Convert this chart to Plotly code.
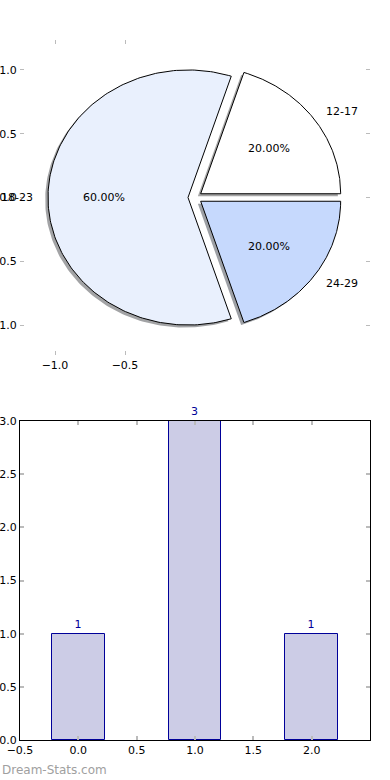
import numpy as np
import plotly.graph_objects as go
from plotly.subplots import make_subplots

# ---- data ----
age_groups = ["12-17", "18-23", "24-29"]
counts = [1, 3, 1]
bar_positions = [0, 1, 2]
pie_colors = ["#ffffff", "#e9f0fd", "#c6d9fd"]
pie_explode = [0.05, 0.05, 0.05]
x_ticks_top = [-1.0, -0.5]
y_ticks_top = [-1.0, -0.5, 0.0, 0.5, 1.0]
x_ticks_bottom = [-0.5, 0.0, 0.5, 1.0, 1.5, 2.0]
y_ticks_bottom = [0.0, 0.5, 1.0, 1.5, 2.0, 2.5, 3.0]

FONT = "DejaVu Sans"
TICK_GRAY = "#bbbbbb"

fig = make_subplots(rows=2, cols=1)

def hex_rgb(h):
    h = h.lstrip("#")
    return tuple(int(h[i:i + 2], 16) for i in (0, 2, 4))

total = float(sum(counts))
angles = np.cumsum([0] + [c / total * 360.0 for c in counts])

slices = []
for i, lab in enumerate(age_groups):
    t1, t2 = angles[i], angles[i + 1]
    mid = np.deg2rad((t1 + t2) / 2)
    cx, cy = pie_explode[i] * np.cos(mid), pie_explode[i] * np.sin(mid)
    th = np.deg2rad(np.linspace(t1, t2, 200))
    xs = np.concatenate([[cx], cx + np.cos(th), [cx]])
    ys = np.concatenate([[cy], cy + np.sin(th), [cy]])
    slices.append((xs, ys, cx, cy, mid))

# shadows
for i, (xs, ys, cx, cy, mid) in enumerate(slices):
    r, g, b = hex_rgb(pie_colors[i])
    fig.add_trace(go.Scatter(
        x=xs - 0.02, y=ys - 0.02, mode="lines", fill="toself",
        fillcolor=f"rgba({int(0.3*r)},{int(0.3*g)},{int(0.3*b)},0.5)",
        line=dict(width=0), hoverinfo="skip", showlegend=False), row=1, col=1)

# wedges
for i, (xs, ys, cx, cy, mid) in enumerate(slices):
    fig.add_trace(go.Scatter(
        x=xs, y=ys, mode="lines", fill="toself", fillcolor=pie_colors[i],
        line=dict(color="black", width=1), hoverinfo="skip",
        showlegend=False), row=1, col=1)

# pie labels
for i, (xs, ys, cx, cy, mid) in enumerate(slices):
    lx, ly = cx + 1.1 * np.cos(mid), cy + 1.1 * np.sin(mid)
    fig.add_annotation(x=lx, y=ly, xref="x", yref="y", text=age_groups[i],
                       showarrow=False, xanchor="left" if lx > 0 else "right",
                       yanchor="middle", borderpad=0,
                       font=dict(family=FONT, size=11, color="black"))
    px, py = cx + 0.6 * np.cos(mid), cy + 0.6 * np.sin(mid)
    fig.add_annotation(x=px, y=py, xref="x", yref="y",
                       text=f"{counts[i] / total * 100:.2f}%",
                       showarrow=False, xanchor="center", yanchor="middle",
                       font=dict(family=FONT, size=11, color="black"))

# bars
fig.add_trace(go.Bar(
    x=bar_positions, y=counts, width=0.45,
    marker=dict(color="#ccccE6", line=dict(color="#000099", width=1)),
    text=[str(c) for c in counts], textposition="outside",
    textfont=dict(family=FONT, size=11, color="#000099"),
    cliponaxis=False, hoverinfo="skip", showlegend=False), row=2, col=1)

tickfont = dict(family=FONT, size=11, color="black")

common = dict(ticks="inside", ticklen=4, tickcolor=TICK_GRAY, showgrid=False,
              zeroline=False, tickfont=tickfont, tickformat=".1f",
              automargin=False, mirror="ticks", showline=True)

fig.update_xaxes(range=[-1.25, 1.25], tickvals=x_ticks_top, tickwidth=1,
                 linecolor="rgba(0,0,0,0)", domain=[0, 1], **common, row=1, col=1)
fig.update_yaxes(range=[-1.235, 1.235], tickvals=y_ticks_top, tickwidth=1,
                 linecolor="rgba(0,0,0,0)", domain=[0.55, 1.0], **common, row=1, col=1)

fig.update_xaxes(range=[-0.5, 2.5], tickvals=x_ticks_bottom, tickwidth=2,
                 linecolor="black", linewidth=1, domain=[0, 1], **common, row=2, col=1)
fig.update_yaxes(range=[0, 3.0], tickvals=y_ticks_bottom, tickwidth=2,
                 linecolor="black", linewidth=1, domain=[0.0, 0.4557], **common, row=2, col=1)

fig.update_layout(
    width=390, height=780,
    margin=dict(l=20, r=20, t=40, b=40, autoexpand=False),
    paper_bgcolor="white", plot_bgcolor="white",
    font=dict(family=FONT, size=11, color="black"),
    showlegend=False, bargap=0,
)

fig.add_annotation(x=-20 / 350, y=-30 / 700, xref="paper", yref="paper",
                   text="Dream-Stats.com", showarrow=False,
                   xanchor="left", yanchor="middle",
                   font=dict(family=FONT, size=12, color="#a0a0a0"))

fig.write_html("out.html", config={"displayModeBar": False},
               post_script="document.body.style.margin='0';document.body.style.overflow='hidden';")
